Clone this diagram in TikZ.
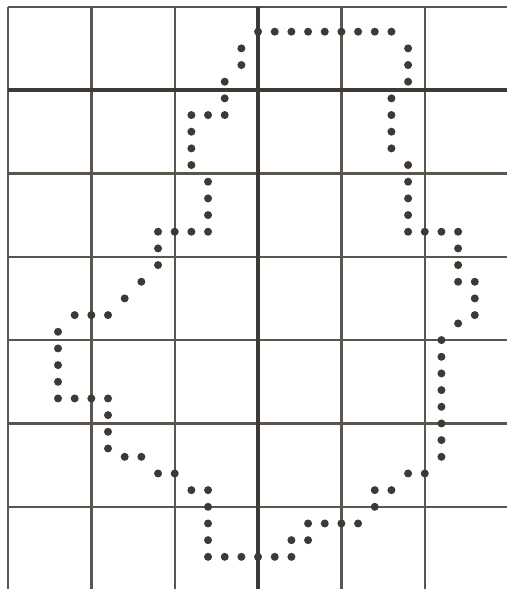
\documentclass[tikz,border=0pt]{standalone}
\usepackage{xcolor}
\usepackage{tikz}
\definecolor{inkgray}{HTML}{3D3934}
\definecolor{linegray}{HTML}{5A554F}
\tikzset{
  gridln/.style={draw=linegray, line width=0.4pt},
  axisln/.style={draw=inkgray, line width=0.6pt},
  outdot/.style={fill=inkgray},
}

\begin{document}
\begin{tikzpicture}[x=1mm, y=1mm]
  \useasboundingbox (-15.48,-29.93) rectangle (14.88,5.4);
  % grid
  \foreach \x in {-15,-10,-5,5,10}
    \draw[gridln] (\x,5) -- (\x,-30);
  \foreach \y in {5,-5,-10,-15,-20,-25,-30}
    \draw[gridln] (-15,\y) -- (15,\y);
  \draw[axisln] (0,5) -- (0,-30);
  \draw[axisln] (-15,0) -- (15,0);
  % dotted outline, clockwise from the top
  \foreach \x in {0,...,8}
    \fill[outdot] (\x,3.5) circle (0.24);
  \foreach \y in {2.5,1.5,0.5,-4.5,-5.5,-6.5,-7.5,-8.5}
    \fill[outdot] (9,\y) circle (0.24);
  \foreach \y in {-0.5,-1.5,-2.5,-3.5}
    \fill[outdot] (8,\y) circle (0.24);
  \foreach \x/\y in {10/-8.5,11/-8.5,12/-8.5,12/-9.5,12/-10.5,12/-11.5,
      13/-11.5,13/-12.5,13/-13.5,12/-14}
    \fill[outdot] (\x,\y) circle (0.24);
  \foreach \y in {-15,...,-22}
    \fill[outdot] (11,\y) circle (0.24);
  \foreach \x/\y in {10/-23,9/-23,8/-24,7/-24,7/-25,6/-26,5/-26,4/-26,3/-26,
      3/-27,2/-27}
    \fill[outdot] (\x,\y) circle (0.24);
  \foreach \x in {-3,...,2}
    \fill[outdot] (\x,-28) circle (0.24);
  \foreach \x/\y in {-3/-27,-3/-26,-3/-25,-3/-24,-4/-24,-5/-23,-6/-23,
      -7/-22,-8/-22,-9/-21.5,-9/-20.5,-9/-19.5,-9/-18.5,
      -10/-18.5,-11/-18.5,-12/-18.5}
    \fill[outdot] (\x,\y) circle (0.24);
  \foreach \y in {-17.5,-16.5,-15.5,-14.5}
    \fill[outdot] (-12,\y) circle (0.24);
  \foreach \x/\y in {-11/-13.5,-10/-13.5,-9/-13.5,-8/-12.5,-7/-11.5,
      -6/-10.5,-6/-9.5,-6/-8.5,-5/-8.5,-4/-8.5,-3/-8.5,
      -3/-7.5,-3/-6.5,-3/-5.5,-4/-4.5,-4/-3.5,-4/-2.5,-4/-1.5,
      -3/-1.5,-2/-1.5,-2/-0.5,-2/0.5,-1/1.5,-1/2.5}
    \fill[outdot] (\x,\y) circle (0.24);
\end{tikzpicture}
\end{document}
